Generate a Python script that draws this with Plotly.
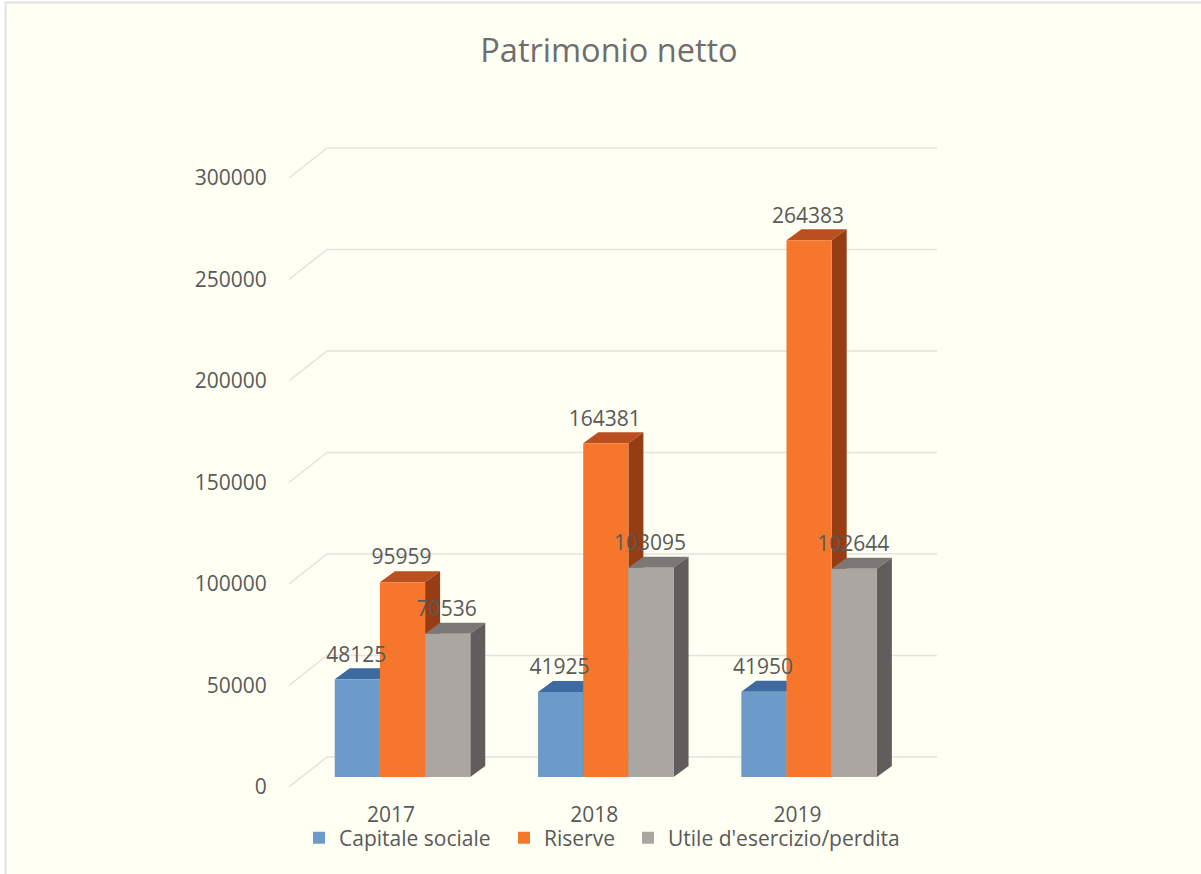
import plotly.graph_objects as go

# ---- data ----
years = ["2017", "2018", "2019"]
series_names = ["Capitale sociale", "Riserve", "Utile d'esercizio/perdita"]
capitale = [48125, 41925, 41950]
riserve = [95959, 164381, 264383]
utile = [70536, 103095, 102644]
y_ticks = [0, 50000, 100000, 150000, 200000, 250000, 300000]

# ---- style ----
front_colors = ["#6C9BC9", "#F6772B", "#ABA6A1"]
top_colors = ["#3D6AA0", "#BA4F1F", "#7C7775"]
side_colors = ["#2F5580", "#963D14", "#635C5C"]
bg = "#FFFFF4"
grid = "#E3E3E0"
txt = "#595959"
font = "Open Sans, Noto Sans, sans-serif"
W, H = 1201, 874

# plot box in pixels and scales
L, R, T, B = 289, 937, 140, 791
cat_px = 203.3
val_px = 2.03 / 1000
x0_front, y0_front = 391.0, 787.0     # front plane of the 3D box
shift_x, shift_y = 11.5, 10.0         # where the bars stand inside the box
back_x, back_y = 38.0, 30.0           # back wall
bar_dx, bar_dy = 15.0, 11.0           # visible depth of a bar
label_dy = 12.5                       # data label lift above the bar front top
bargap = 1 / 3
bar_w = (1 - bargap) / 3


def dx(px):
    return px / cat_px


def dy(px):
    return px / val_px


fig = go.Figure()

# gridlines: floor/wall corner then along the back wall
gx, gy = [], []
for t in y_ticks:
    gx += [dx(L - x0_front), dx(L - x0_front + back_x), dx(R - x0_front), None]
    gy += [t, t + dy(back_y), t + dy(back_y), None]
fig.add_trace(go.Scatter(x=gx, y=gy, mode="lines", line=dict(color=grid, width=1.5),
                         showlegend=False, hoverinfo="skip"))

all_values = [capitale, riserve, utile]

# depth faces of the bars, on the box axes
for k, vals in enumerate(all_values):
    tx, ty, sx, sy = [], [], [], []
    for i, v in enumerate(vals):
        xl = i + dx(shift_x) + (k - 1.5) * bar_w
        xr = xl + bar_w
        yb = dy(shift_y)
        yt = v + yb
        tx += [xl, xl + dx(bar_dx), xr + dx(bar_dx), xr, xl, None]
        ty += [yt, yt + dy(bar_dy), yt + dy(bar_dy), yt, yt, None]
        sx += [xr, xr + dx(bar_dx), xr + dx(bar_dx), xr, xr, None]
        sy += [yt, yt + dy(bar_dy), yb + dy(bar_dy), yb, yt, None]
    fig.add_trace(go.Scatter(x=tx, y=ty, mode="lines", fill="toself", fillcolor=top_colors[k],
                             line=dict(width=0), showlegend=False, hoverinfo="skip"))
    fig.add_trace(go.Scatter(x=sx, y=sy, mode="lines", fill="toself", fillcolor=side_colors[k],
                             line=dict(width=0), showlegend=False, hoverinfo="skip"))

# front faces of the bars, on the overlaid axes
for k, vals in enumerate(all_values):
    fig.add_trace(go.Bar(x=[0, 1, 2], y=vals, name=series_names[k],
                         marker=dict(color=front_colors[k], line=dict(width=0)),
                         xaxis="x2", yaxis="y2",
                         legend="legend" if k == 0 else f"legend{k + 1}"))

# data labels
for k, vals in enumerate(all_values):
    fig.add_trace(go.Scatter(x=[i + (k - 1) * bar_w - dx(1) for i in range(3)],
                             y=[v + dy(label_dy) for v in vals],
                             text=[str(v) for v in vals],
                             mode="text", textposition="top center",
                             textfont=dict(family=font, size=21, color=txt),
                             xaxis="x2", yaxis="y2", showlegend=False, hoverinfo="skip"))


def legend(left):
    return dict(x=left / W, y=1 - 838 / H, xanchor="left", yanchor="middle",
                orientation="h", bgcolor="rgba(0,0,0,0)", borderwidth=0,
                font=dict(family=font, size=21, color=txt))


fig.update_layout(
    width=W, height=H,
    margin=dict(l=0, r=0, t=0, b=0, autoexpand=False),
    paper_bgcolor="white", plot_bgcolor="rgba(0,0,0,0)",
    title=dict(text="Patrimonio netto", x=609 / W, y=1 - 51 / H, xanchor="center", yanchor="middle",
               font=dict(family=font, size=32.5, color="#6E6E6E")),
    barmode="group", bargap=bargap, bargroupgap=0,
    legend=legend(299), legend2=legend(504), legend3=legend(628),
    shapes=[dict(type="rect", xref="paper", yref="paper", x0=5.5 / W, x1=1.2, y0=-0.2, y1=1 - 2.5 / H,
                 fillcolor=bg, line=dict(color="#E2E2E2", width=2), layer="below")],
    xaxis=dict(domain=[L / W, R / W], range=[(L - x0_front) / cat_px, (R - x0_front) / cat_px],
               tickmode="array", tickvals=[0, 1, 2], ticktext=years,
               showgrid=False, zeroline=False, showline=False,
               ticks="outside", ticklen=5, tickcolor="rgba(0,0,0,0)",
               tickfont=dict(family=font, size=21, color=txt)),
    yaxis=dict(domain=[1 - B / H, 1 - T / H], range=[(y0_front - B) / val_px, (y0_front - T) / val_px],
               tickmode="array", tickvals=y_ticks, ticktext=[str(t) for t in y_ticks],
               showgrid=False, zeroline=False, showline=False,
               ticks="outside", ticklen=17, tickcolor="rgba(0,0,0,0)",
               tickfont=dict(family=font, size=21, color=txt)),
    xaxis2=dict(overlaying="x", visible=False, domain=[L / W, R / W],
                range=[(L - x0_front - shift_x) / cat_px, (R - x0_front - shift_x) / cat_px]),
    yaxis2=dict(overlaying="y", visible=False, domain=[1 - B / H, 1 - T / H],
                range=[(y0_front - shift_y - B) / val_px, (y0_front - shift_y - T) / val_px]),
)

fig.write_html("out.html", config=dict(displayModeBar=False),
               post_script="document.body.style.margin='0';")
